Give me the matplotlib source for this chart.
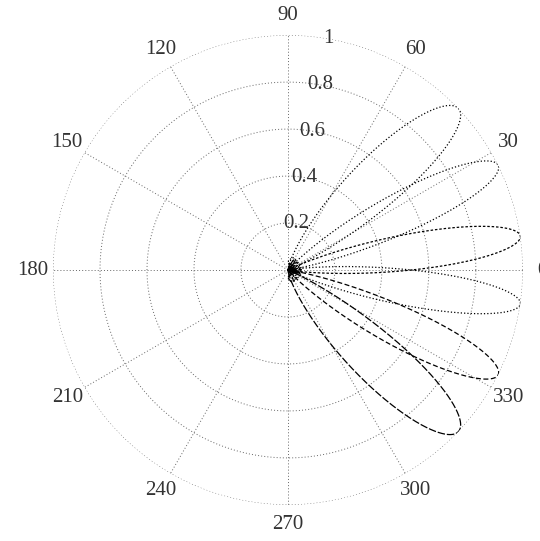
import matplotlib
matplotlib.use("Agg")
import matplotlib.pyplot as plt
import numpy as np

# beam directions (deg) and peak levels
BEAM_DEG = [43.5, 26.5, 8.3, -8.3, -26.5, -43.5]
BEAM_PEAK = [1.0, 1.0, 1.0, 1.0, 1.0, 1.0]
BEAM_STYLE = [":", ":", (0, (2, 1.5)), ":", (0, (4, 2)), (0, (6, 1.5))]
N_ELEM = 6          # elements in the array
SPACING = 0.5       # element spacing in wavelengths

RINGS = [0.2, 0.4, 0.6, 0.8, 1.0]
RING_LABELS = ["0.2", "0.4", "0.6", "0.8", "1"]
SPOKES = list(range(0, 360, 30))


def array_power(theta, steer):
    psi = 2 * np.pi * SPACING * (np.sin(theta) - np.sin(steer))
    num = np.sin(N_ELEM * psi / 2)
    den = N_ELEM * np.sin(psi / 2)
    af = np.where(np.abs(den) < 1e-9, 1.0, num / np.where(np.abs(den) < 1e-9, 1, den))
    return af ** 2


plt.rcParams["font.family"] = ["Liberation Serif", "DejaVu Serif"]

fig = plt.figure(figsize=(5.40, 5.41), dpi=100)
ax = fig.add_axes([0.0982, 0.0665, 0.870, 0.8688], projection="polar")
ax.set_ylim(0, 1)
ax.grid(False)
ax.spines["polar"].set_visible(False)
ax.set_xticks([])
ax.set_yticks([])

grid_kw = dict(color="#666666", lw=0.7, ls=(0, (1, 2.2)), zorder=1)
t_full = np.linspace(0, 2 * np.pi, 721)
for r in RINGS:
    ax.plot(t_full, np.full_like(t_full, r), **grid_kw)
for a in SPOKES:
    ax.plot([np.radians(a)] * 2, [0, 1], **grid_kw)

theta = np.linspace(-np.pi / 2, np.pi / 2, 2001)
for deg, peak, ls in zip(BEAM_DEG, BEAM_PEAK, BEAM_STYLE):
    ax.plot(theta, peak * array_power(theta, np.radians(deg)),
            color="black", lw=0.9, ls=ls, zorder=3)

for r, lab in zip(RINGS, RING_LABELS):
    ax.text(np.radians(80), r, lab, ha="center", va="center", fontsize=15,
            color="#333333", zorder=4)
for a in SPOKES:
    ax.text(np.radians(a), 1.085, str(a), ha="center", va="center",
            fontsize=15, color="#333333")

fig.savefig("out.png", dpi=100)
